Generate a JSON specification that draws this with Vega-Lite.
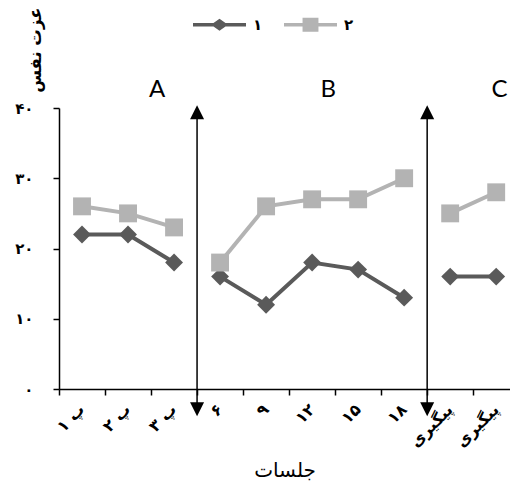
{
  "$schema": "https://vega.github.io/schema/vega-lite/v6.json",
  "width": 451,
  "height": 281,
  "autosize": {"type": "none"},
  "padding": {"left": 59, "top": 108, "right": 0, "bottom": 96},
  "background": "white",
  "config": {"view": {"stroke": null}, "font": "DejaVu Sans"},
  "datasets": {
    "scores": [
      {"session": 1, "score": 22, "group": "۱", "phase": "A"},
      {"session": 2, "score": 22, "group": "۱", "phase": "A"},
      {"session": 3, "score": 18, "group": "۱", "phase": "A"},
      {"session": 4, "score": 16, "group": "۱", "phase": "B"},
      {"session": 5, "score": 12, "group": "۱", "phase": "B"},
      {"session": 6, "score": 18, "group": "۱", "phase": "B"},
      {"session": 7, "score": 17, "group": "۱", "phase": "B"},
      {"session": 8, "score": 13, "group": "۱", "phase": "B"},
      {"session": 9, "score": 16, "group": "۱", "phase": "C"},
      {"session": 10, "score": 16, "group": "۱", "phase": "C"},
      {"session": 1, "score": 26, "group": "۲", "phase": "A"},
      {"session": 2, "score": 25, "group": "۲", "phase": "A"},
      {"session": 3, "score": 23, "group": "۲", "phase": "A"},
      {"session": 4, "score": 18, "group": "۲", "phase": "B"},
      {"session": 5, "score": 26, "group": "۲", "phase": "B"},
      {"session": 6, "score": 27, "group": "۲", "phase": "B"},
      {"session": 7, "score": 27, "group": "۲", "phase": "B"},
      {"session": 8, "score": 30, "group": "۲", "phase": "B"},
      {"session": 9, "score": 25, "group": "۲", "phase": "C"},
      {"session": 10, "score": 28, "group": "۲", "phase": "C"}
    ],
    "arrows": [
      {"session": 3.5, "score": -2.9, "score2": 39.4},
      {"session": 8.5, "score": -2.9, "score2": 39.4}
    ],
    "phases": [
      {"session": 2.63, "score": 41.6, "label": "A"},
      {"session": 6.35, "score": 41.6, "label": "B"},
      {"session": 10.07, "score": 41.6, "label": "C"}
    ]
  },
  "layer": [
    {
      "data": {"name": "scores"},
      "mark": {"type": "line", "strokeWidth": 4},
      "encoding": {
        "x": {
          "field": "session", "type": "quantitative",
          "scale": {"domain": [0.5, 10.3], "nice": false, "zero": false},
          "axis": {
            "values": [1, 2, 3, 4, 5, 6, 7, 8, 9, 10],
            "tickOffset": -23,
            "labelOffset": 17,
            "labelAngle": -45,
            "labelExpr": "['پ ۱','پ ۲','پ ۳','۶','۹','۱۲','۱۵','۱۸','پیگیری','پیگیری'][datum.value-1]",
            "labelFont": "DejaVu Sans", "labelFontWeight": "bold", "labelFontSize": 16,
            "labelColor": "black", "labelPadding": 6, "labelOverlap": false, "labelFlush": false,
            "domainColor": "black", "domainWidth": 1.5,
            "tickColor": "black", "tickWidth": 1.5, "tickSize": 6,
            "grid": false,
            "title": "جلسات", "titleFont": "DejaVu Sans", "titleFontSize": 20, "titleFontWeight": "normal",
            "titleColor": "black", "titleY": 81, "titleBaseline": "middle"
          }
        },
        "y": {
          "field": "score", "type": "quantitative",
          "scale": {"domain": [0, 40], "nice": false},
          "axis": {
            "values": [0, 10, 20, 30, 40],
            "labelExpr": "['۰','۱۰','۲۰','۳۰','۴۰'][round(datum.value/10)]",
            "labelFont": "DejaVu Sans", "labelFontWeight": "bold", "labelFontSize": 15,
            "labelColor": "black", "labelPadding": 20,
            "domainColor": "black", "domainWidth": 1.5,
            "tickColor": "black", "tickWidth": 1.5, "tickSize": 6,
            "grid": false,
            "title": "عزت نفس", "titleFont": "DejaVu Sans", "titleFontSize": 16.5, "titleFontWeight": "bold",
            "titleColor": "black", "titleAngle": -90, "titleX": -24, "titleY": -101,
            "titleAlign": "right", "titleBaseline": "middle"
          }
        },
        "color": {
          "field": "group", "type": "nominal",
          "scale": {"domain": ["۱", "۲"], "range": ["#5a5a5a", "#b3b3b3"]},
          "legend": {
            "orient": "none", "legendX": 134, "legendY": -110,
            "direction": "horizontal", "title": null,
            "symbolSize": 2809, "symbolStrokeWidth": 0,
            "labelFont": "DejaVu Sans", "labelFontSize": 15, "labelFontWeight": "bold", "labelColor": "black",
            "labelOffset": 7, "columnPadding": 21, "padding": 0,
            "encode": {
              "symbols": {
                "update": {
                  "shape": {"signal": "datum.value === '۱' ? 'M-1,-0.07H1V0.07H-1Z M-0.32,0L0,-0.23L0.32,0L0,0.23Z' : 'M-1,-0.07H1V0.07H-1Z M-0.3,-0.26H0.3V0.26H-0.3Z'"},
                  "fill": {"scale": "color", "field": "value"},
                  "opacity": {"value": 1},
                  "strokeWidth": {"value": 0}
                }
              }
            }
          }
        },
        "detail": {"field": "phase"}
      }
    },
    {
      "data": {"name": "scores"},
      "transform": [{"filter": "datum.group === '۱'"}],
      "mark": {"type": "point", "filled": true, "opacity": 1, "size": 320, "shape": "diamond", "color": "#5a5a5a"},
      "encoding": {
        "x": {"field": "session", "type": "quantitative", "scale": {"domain": [0.5, 10.3], "nice": false, "zero": false}},
        "y": {"field": "score", "type": "quantitative", "scale": {"domain": [0, 40], "nice": false}}
      }
    },
    {
      "data": {"name": "scores"},
      "transform": [{"filter": "datum.group === '۲'"}],
      "mark": {"type": "point", "filled": true, "opacity": 1, "size": 320, "shape": "square", "color": "#b3b3b3"},
      "encoding": {
        "x": {"field": "session", "type": "quantitative", "scale": {"domain": [0.5, 10.3], "nice": false, "zero": false}},
        "y": {"field": "score", "type": "quantitative", "scale": {"domain": [0, 40], "nice": false}}
      }
    },
    {
      "data": {"name": "arrows"},
      "mark": {"type": "rule", "color": "black", "strokeWidth": 1.5},
      "encoding": {
        "x": {"field": "session", "type": "quantitative", "scale": {"domain": [0.5, 10.3], "nice": false, "zero": false}},
        "y": {"field": "score", "type": "quantitative", "scale": {"domain": [0, 40], "nice": false}},
        "y2": {"field": "score2"}
      }
    },
    {
      "data": {"name": "arrows"},
      "mark": {"type": "point", "filled": true, "opacity": 1, "color": "black", "size": 196, "shape": "M0,-1L1,1L-1,1Z"},
      "encoding": {
        "x": {"field": "session", "type": "quantitative", "scale": {"domain": [0.5, 10.3], "nice": false, "zero": false}},
        "y": {"field": "score2", "type": "quantitative", "scale": {"domain": [0, 40], "nice": false}}
      }
    },
    {
      "data": {"name": "arrows"},
      "mark": {"type": "point", "filled": true, "opacity": 1, "color": "black", "size": 196, "shape": "M0,1L1,-1L-1,-1Z"},
      "encoding": {
        "x": {"field": "session", "type": "quantitative", "scale": {"domain": [0.5, 10.3], "nice": false, "zero": false}},
        "y": {"field": "score", "type": "quantitative", "scale": {"domain": [0, 40], "nice": false}}
      }
    },
    {
      "data": {"name": "phases"},
      "mark": {"type": "text", "font": "Lato", "fontSize": 24, "color": "black", "align": "center", "baseline": "alphabetic"},
      "encoding": {
        "x": {"field": "session", "type": "quantitative", "scale": {"domain": [0.5, 10.3], "nice": false, "zero": false}},
        "y": {"field": "score", "type": "quantitative", "scale": {"domain": [0, 40], "nice": false}},
        "text": {"field": "label"}
      }
    }
  ]
}
